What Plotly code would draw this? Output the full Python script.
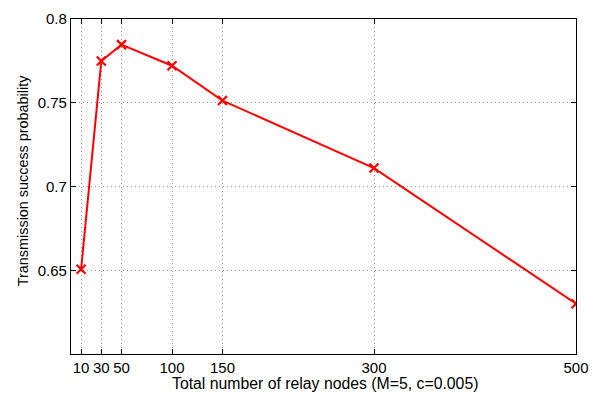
import plotly.graph_objects as go

nodes = [10, 30, 50, 100, 150, 300, 500]
prob = [0.6506, 0.7749, 0.7847, 0.7721, 0.7513, 0.7110, 0.6300]
xticks = [10, 30, 50, 100, 150, 300, 500]
yticks = [0.65, 0.7, 0.75, 0.8]
ytick_text = ["0.65", "0.7", "0.75", "0.8"]
x_title = "Total number of relay nodes (M=5, c=0.005)"
y_title = "Transmission success probability"

fig = go.Figure()
fig.add_trace(go.Scatter(
    x=nodes, y=prob, mode="lines+markers",
    line=dict(color="#ff0000", width=2),
    marker=dict(symbol="x-thin", size=9, line=dict(color="#ff0000", width=2.2)),
    showlegend=False,
))

font = "Liberation Sans, Arial, sans-serif"
fig.update_layout(
    width=604, height=399,
    margin=dict(l=71, r=28, t=10, b=45),
    paper_bgcolor="white", plot_bgcolor="white",
    font=dict(family=font, size=15, color="black"),
)
grid = dict(showgrid=True, gridcolor="#999999", griddash="1px,3px", gridwidth=1)
fig.update_xaxes(
    range=[0, 500], tickvals=xticks, ticktext=[str(v) for v in xticks],
    ticks="inside", ticklen=5, tickwidth=1, tickcolor="black",
    showline=True, linecolor="black", linewidth=1.2, mirror="ticks",
    zeroline=False, tickfont=dict(size=15), **grid,
)
fig.update_yaxes(
    range=[0.6, 0.8], tickvals=yticks, ticktext=ytick_text,
    ticks="inside", ticklen=5, tickwidth=1, tickcolor="black",
    showline=True, linecolor="black", linewidth=1.2, mirror="ticks",
    zeroline=False, tickfont=dict(size=15), **grid,
)
fig.add_annotation(
    text=x_title, xref="paper", yref="paper", x=0.5, y=0, xshift=1, yshift=-29,
    xanchor="center", yanchor="middle", showarrow=False, font=dict(size=15.8),
)
fig.add_annotation(
    text=y_title, xref="paper", yref="paper", x=0, y=0.5, xshift=-48.3, yshift=6,
    xanchor="center", yanchor="middle", textangle=-90, showarrow=False, font=dict(size=14.4),
)
fig.write_html("out.html")
